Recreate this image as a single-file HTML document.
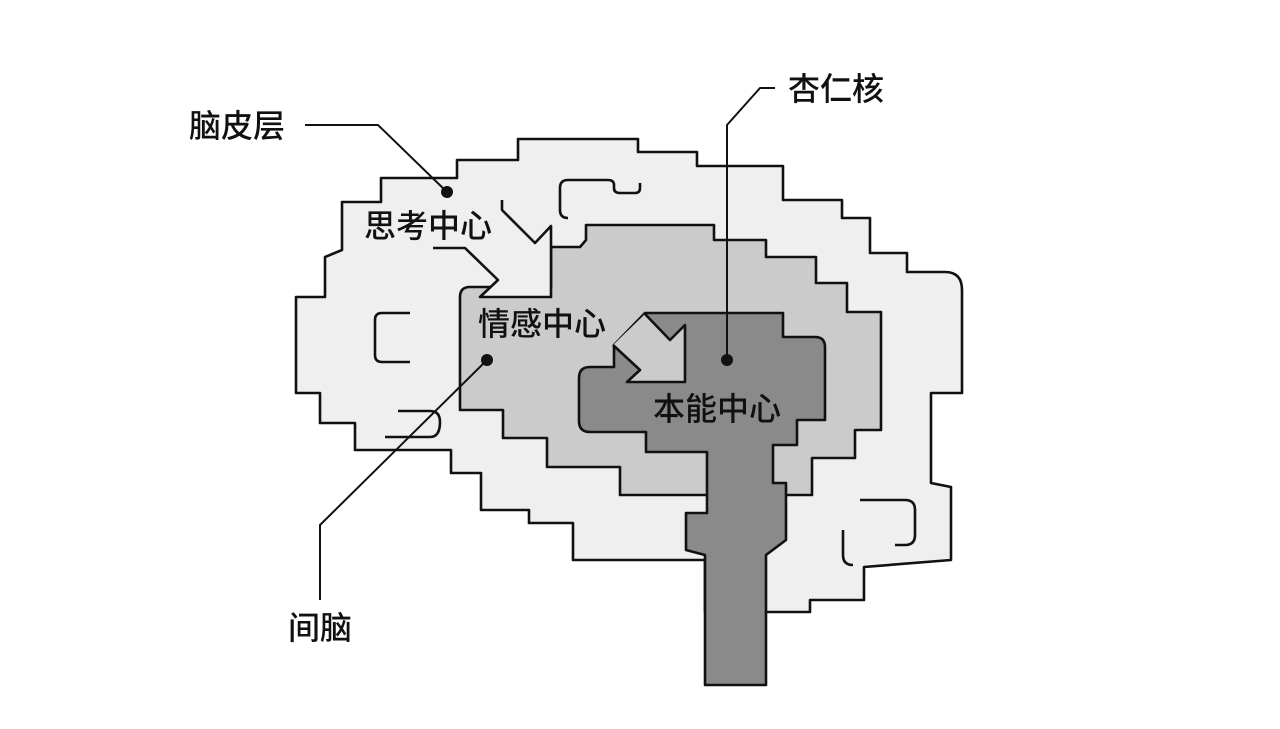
<!DOCTYPE html>
<html><head><meta charset="utf-8"><style>
html,body{margin:0;padding:0;background:#fff;width:1280px;height:729px;overflow:hidden}
svg{display:block}
text{font-family:"Liberation Sans","Noto Sans CJK SC",sans-serif;font-size:32px;font-weight:500;fill:#111}
</style></head><body>
<svg width="1280" height="729" viewBox="0 0 1280 729" xmlns="http://www.w3.org/2000/svg">
<g stroke="#111" stroke-width="2.6" stroke-linejoin="round" fill="none">
<path fill="#efefef" d="M518,139 L638,139 L638,152 L697,152 L697,166 L783,166 L783,200 L842,200 L842,218 L870,218 L870,253 L907,253 L907,272 L945,272 Q962,272 962,290 L962,393 L931,393 L931,483 L951,487 L951,560 L864,567 L864,600 L810,600 L810,612 L765,612 L705,612 L705,560 L573,560 L573,523 L529,523 L529,510 L481,510 L481,473 L451,473 L451,450 L355,450 L355,423 L320,423 L320,393 L296,393 L296,297 L325,297 L325,257 L342,250 L342,202 L381,202 L381,178 L457,178 L457,160 L518,160 Z"/>
<path fill="#cbcbcb" d="M551,247 L580,247 L586,240 L586,225 L714,225 L714,240 L766,240 L766,257 L816,257 L816,283 L847,283 L847,312 L881,312 L881,430 L855,430 L855,458 L812,458 L812,495 L620,495 L620,467 L547,467 L547,438 L503,438 L503,410 L460,410 L460,297 Q460,287 470,287 L551,287 Z"/>
<path fill="#8a8a8a" d="M645,313 L783,313 L783,337 L815,337 Q825,337 825,347 L825,420 L797,420 L797,445 L773,445 L773,483 L786,483 L786,540 L766,555 L766,685 L705,685 L705,555 L686,550 L686,513 L707,513 L707,452 L646,452 L646,432 L590,432 Q579,432 579,421 L579,378 Q579,367 590,367 L614,367 L614,345 Z"/>
<polygon fill="#efefef" stroke="none" points="502,200 502,210 535,243 551,226 551,297 480,297 498,280 465,248 433,248"/>
<polyline points="502,200 502,210 535,243 551,226 551,297 480,297 498,280 465,248 433,248"/>
<polygon fill="#cbcbcb" stroke="none" points="645,314 670,340 685,325 685,382 627,382 640,370 613,345"/>
<polyline points="645,314 670,340 685,325 685,382 627,382 640,370 613,345"/>
<path d="M640,183 L640,188 Q640,193 635,193 L620,193 Q614,193 614,188 L614,185 Q614,180 608,180 L568,180 Q560,180 560,188 L560,210 Q560,218 568,218"/>
<path d="M410,313 L382,313 Q375,313 375,320 L375,355 Q375,362 382,362 L410,362"/>
<path d="M398,411 L430,411 Q440,411 440,422 Q440,437 430,437 L385,437"/>
<path d="M860,500 L905,500 Q915,500 915,510 L915,535 Q915,545 905,545 L895,545"/>
<path d="M843,530 L843,555 Q843,565 853,565"/>
<polyline stroke-width="2" points="305,125 378,125 447,192"/>
<polyline stroke-width="2" points="775,88 760,88 727,125 727,360"/>
<polyline stroke-width="2" points="487,360 320,525 320,600"/>
</g>
<g fill="#111">
<circle cx="447" cy="192" r="6"/>
<circle cx="727" cy="360" r="6"/>
<circle cx="487" cy="360" r="6"/>
</g>
<text x="189" y="137">脑皮层</text>
<text x="788" y="100">杏仁核</text>
<text x="364" y="237">思考中心</text>
<text x="478" y="335">情感中心</text>
<text x="653" y="420">本能中心</text>
<text x="288" y="639">间脑</text>
</svg>
</body></html>
